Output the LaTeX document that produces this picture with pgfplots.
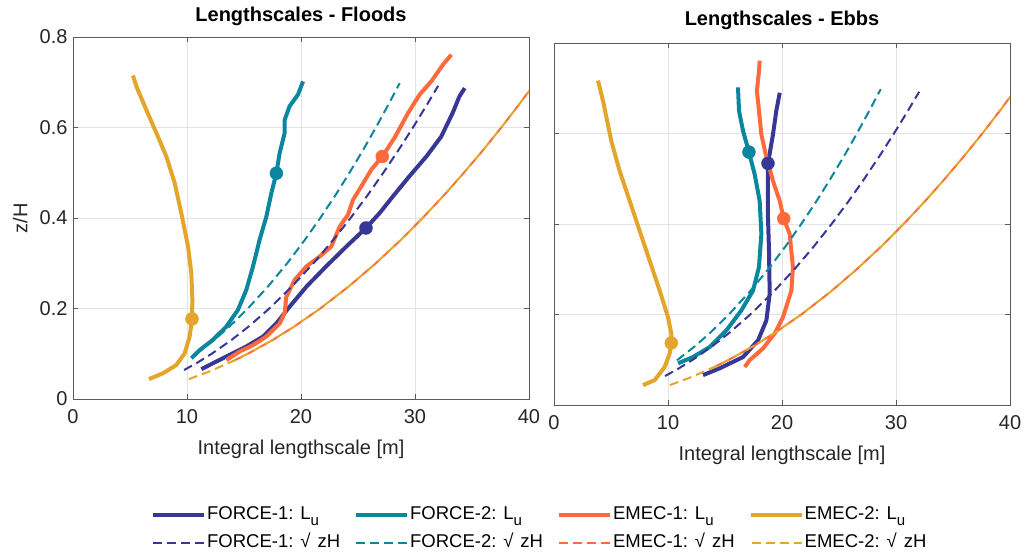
\documentclass[border=0pt]{standalone}
\usepackage{fontspec}
\setmainfont{Liberation Sans}
\usepackage{pgfplots}
\pgfplotsset{compat=1.18}

\definecolor{fone}{RGB}{55,55,150}
\definecolor{ftwo}{RGB}{10,135,158}
\definecolor{eone}{RGB}{255,106,61}
\definecolor{etwo}{RGB}{227,166,42}
\definecolor{axgray}{RGB}{90,90,90}

\newcommand{\Lu}{L\raisebox{-6pt}{\fontsize{15}{15}\selectfont u}}
\newcommand{\sq}{√\hspace{7pt}zH}

\pgfplotsset{
  panel/.style={
    scale only axis, width=456pt, height=362pt,
    xmin=0, xmax=40, ymin=0, ymax=0.8,
    xtick={0,10,20,30,40}, ytick={0,0.2,0.4,0.6,0.8},
    grid=major, major grid style={gray!22, line width=0.9pt},
    tick align=inside, tick pos=both, major tick length=5pt,
    axis line style={axgray, line width=0.9pt},
    tick style={axgray, line width=0.9pt},
    /pgf/number format/assume math mode=true,
    ticklabel style={font=\fontsize{20}{20}\selectfont, text=black!85},
    xticklabel style={yshift=-7pt},
    yticklabel style={xshift=-2pt},
    xlabel style={at={(axis description cs:0.5,-0.138)}, anchor=center,
      font=\fontsize{20}{20}\selectfont, text=black!85},
    ylabel style={at={(axis description cs:-0.116,0.5)}, anchor=center,
      font=\fontsize{20}{20}\selectfont, text=black!85},
    title style={font=\bfseries\fontsize{20}{20}\selectfont, anchor=center},
    xlabel={Integral lengthscale [m]},
  },
  solid/.style={line width=4pt, line join=round},
  dsh/.style={line width=2pt, dash pattern=on 9pt off 5pt},
  dot/.style={only marks, mark=*, mark size=6.5pt, forget plot},
}

\begin{document}
\begin{tikzpicture}
% ---------------- Floods ----------------
\begin{axis}[panel, at={(0pt,0pt)}, anchor=south west,
  title={Lengthscales - Floods},
  title style={at={(axis description cs:0.5,1.041)}},
  ylabel={z/H},
  legend columns=4,
  legend cell align=left,
  legend style={draw=none, fill=none, inner sep=0pt,
    at={(axis description cs:0.171,-0.28)}, anchor=north west,
    font=\fontsize{18.5}{18.5}\selectfont,
    nodes={inner xsep=1pt, inner ysep=5.5pt, text height=13pt, text depth=4pt},
    /tikz/every even column/.append style={column sep=13pt}},
  legend image code/.code={\draw[#1] (0pt,0pt) -- (51pt,0pt);},
]
% integral lengthscales
\addplot[solid, fone] coordinates {
(11.26,0.066)(13.45,0.094)(15.2,0.116)(16.67,0.138)(17.84,0.167)(19.0,0.204)
(20.5,0.249)(22.2,0.293)(23.98,0.337)(25.7,0.378)(26.9,0.411)(28.07,0.448)
(29.5,0.492)(31.0,0.536)(32.3,0.58)(33.3,0.632)(33.9,0.669)(34.36,0.687)};
\addlegendentry{FORCE-1: \Lu}
\addplot[solid, ftwo] coordinates {
(10.38,0.09)(11.11,0.108)(12.28,0.131)(13.45,0.16)(14.47,0.197)(15.2,0.241)
(15.79,0.293)(16.37,0.352)(16.96,0.403)(17.4,0.455)(17.84,0.499)(18.13,0.544)
(18.57,0.588)(18.57,0.617)(19.0,0.647)(19.74,0.673)(20.18,0.702)};
\addlegendentry{FORCE-2: \Lu}
\addplot[solid, eone] coordinates {
(13.45,0.086)(14.62,0.105)(15.79,0.119)(16.96,0.138)(18.13,0.167)(18.57,0.19)
(18.71,0.226)(19.44,0.263)(20.47,0.293)(21.64,0.315)(22.66,0.337)(23.39,0.381)
(24.12,0.407)(24.56,0.44)(25.29,0.47)(26.17,0.507)(27.13,0.536)(28.2,0.577)
(29.39,0.632)(30.41,0.673)(31.43,0.702)(32.46,0.739)(33.19,0.761)};
\addlegendentry{EMEC-1: \Lu}
\addplot[solid, etwo] coordinates {
(6.67,0.044)(7.9,0.057)(9.06,0.075)(9.8,0.101)(10.23,0.138)(10.44,0.175)
(10.47,0.219)(10.38,0.278)(10.09,0.337)(9.5,0.411)(8.92,0.477)(8.19,0.536)
(7.31,0.588)(6.43,0.639)(5.56,0.691)(5.26,0.715)};
\addlegendentry{EMEC-2: \Lu}
% sqrt(zH) scaling
\addplot[dsh, fone] coordinates {
(9.74,0.064)(10.89,0.08)(12.17,0.1)(13.88,0.13)(15.4,0.16)(17.22,0.2)(19.25,0.25)
(21.09,0.3)(22.78,0.35)(24.35,0.4)(25.83,0.45)(27.22,0.5)(28.55,0.55)(29.82,0.6)
(31.04,0.65)(32.03,0.692)};
\addlegendentry{FORCE-1: \sq}
\addplot[dsh, ftwo] coordinates {
(10.79,0.099)(12.37,0.13)(13.72,0.16)(15.34,0.2)(17.15,0.25)(18.79,0.3)(20.29,0.35)
(21.69,0.4)(23.01,0.45)(24.25,0.5)(25.44,0.55)(26.57,0.6)(27.65,0.65)(28.66,0.698)};
\addlegendentry{FORCE-2: \sq}
\addplot[dsh, eone] coordinates {
(14.14,0.085)(15.34,0.1)(17.49,0.13)(19.4,0.16)(21.69,0.2)(24.25,0.25)(26.56,0.3)
(28.69,0.35)(30.67,0.4)(32.53,0.45)(34.29,0.5)(35.97,0.55)(37.57,0.6)(39.1,0.65)(40.58,0.7)};
\addlegendentry{EMEC-1: \sq}
\addplot[dsh, etwo, dash phase=12.8pt] coordinates {
(10.06,0.043)(11.88,0.06)(14.14,0.085)(15.34,0.1)(17.49,0.13)(19.4,0.16)(21.69,0.2)
(24.25,0.25)(26.56,0.3)(28.69,0.35)(30.67,0.4)(32.53,0.45)(34.29,0.5)(35.97,0.55)
(37.57,0.6)(39.1,0.65)(40.58,0.7)};
\addlegendentry{EMEC-2: \sq}
% reference points
\addplot[dot, fone] coordinates {(25.7,0.378)};
\addplot[dot, ftwo] coordinates {(17.84,0.499)};
\addplot[dot, eone] coordinates {(27.13,0.536)};
\addplot[dot, etwo] coordinates {(10.44,0.177)};
\end{axis}

% ---------------- Ebbs ----------------
\begin{axis}[panel, at={(481pt,-6pt)}, anchor=south west,
  title={Lengthscales - Ebbs},
  title style={at={(axis description cs:0.5,1.047)}},
  yticklabels={},
]
\addplot[solid, fone] coordinates {
(13.07,0.066)(14.53,0.081)(16.58,0.106)(17.9,0.143)(18.63,0.187)(18.92,0.246)
(18.86,0.341)(18.77,0.415)(18.77,0.481)(18.77,0.534)(19.21,0.598)(19.5,0.65)(19.8,0.69)};
\addplot[solid, ftwo] coordinates {
(10.88,0.092)(12.19,0.106)(13.65,0.128)(15.12,0.165)(16.43,0.209)(17.46,0.253)
(17.98,0.305)(18.19,0.378)(18.04,0.451)(17.6,0.51)(17.1,0.559)(16.58,0.606)
(16.23,0.65)(16.14,0.702)};
\addplot[solid, eone] coordinates {
(16.73,0.084)(17.16,0.099)(18.33,0.125)(19.36,0.158)(20.09,0.194)(20.82,0.253)
(20.96,0.305)(20.67,0.378)(20.15,0.412)(19.8,0.451)(19.21,0.495)(18.57,0.554)
(18.19,0.598)(17.98,0.65)(17.8,0.694)(17.98,0.738)(18.04,0.761)};
\addplot[solid, etwo] coordinates {
(7.81,0.044)(8.83,0.055)(9.71,0.084)(10.15,0.114)(10.29,0.137)(10.29,0.158)
(10.0,0.194)(9.27,0.253)(8.39,0.319)(7.51,0.385)(6.64,0.451)(5.76,0.517)
(5.03,0.583)(4.3,0.672)(3.86,0.717)};
\addplot[dsh, fone] coordinates {
(9.74,0.064)(10.89,0.08)(12.17,0.1)(13.88,0.13)(15.4,0.16)(17.22,0.2)(19.25,0.25)
(21.09,0.3)(22.78,0.35)(24.35,0.4)(25.83,0.45)(27.22,0.5)(28.55,0.55)(29.82,0.6)
(31.04,0.65)(32.03,0.692)};
\addplot[dsh, ftwo] coordinates {
(10.79,0.099)(12.37,0.13)(13.72,0.16)(15.34,0.2)(17.15,0.25)(18.79,0.3)(20.29,0.35)
(21.69,0.4)(23.01,0.45)(24.25,0.5)(25.44,0.55)(26.57,0.6)(27.65,0.65)(28.66,0.698)};
\addplot[dsh, eone] coordinates {
(14.14,0.085)(15.34,0.1)(17.49,0.13)(19.4,0.16)(21.69,0.2)(24.25,0.25)(26.56,0.3)
(28.69,0.35)(30.67,0.4)(32.53,0.45)(34.29,0.5)(35.97,0.55)(37.57,0.6)(39.1,0.65)(40.58,0.7)};
\addplot[dsh, etwo, dash phase=12.8pt] coordinates {
(10.06,0.043)(11.88,0.06)(14.14,0.085)(15.34,0.1)(17.49,0.13)(19.4,0.16)(21.69,0.2)
(24.25,0.25)(26.56,0.3)(28.69,0.35)(30.67,0.4)(32.53,0.45)(34.29,0.5)(35.97,0.55)
(37.57,0.6)(39.1,0.65)(40.58,0.7)};
\addplot[dot, fone] coordinates {(18.77,0.534)};
\addplot[dot, ftwo] coordinates {(17.1,0.559)};
\addplot[dot, eone] coordinates {(20.15,0.412)};
\addplot[dot, etwo] coordinates {(10.29,0.137)};
\end{axis}
\pgfresetboundingbox
\path (-73pt,-159pt) rectangle (953pt,399pt);
\end{tikzpicture}
\end{document}
